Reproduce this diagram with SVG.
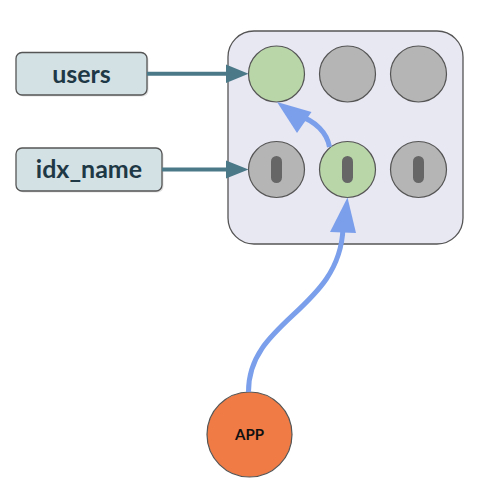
<svg xmlns="http://www.w3.org/2000/svg" width="495" height="491" viewBox="0 0 495 491">
<style>
.lbl rect{fill:#d3e1e5;stroke:#555;stroke-width:1.3}
.lbl .sh{fill:#000;fill-opacity:0.12;stroke:none}
.lbl text{font-family:Lato,"Liberation Sans",sans-serif;font-weight:bold;font-size:25px;fill:#1e3846;text-anchor:middle}
.g{fill:#b9d6a8;stroke:#555;stroke-width:1.2}
.s{fill:#b5b5b5;stroke:#555;stroke-width:1.2}
.pill{fill:#666}
.teal{stroke:#4b7988;stroke-width:4;fill:none}
.blue{stroke:#7b9feb;stroke-width:5;fill:none}
</style>
<g id="table">
<rect x="228" y="31" width="235" height="213" rx="26" fill="#e8e8f3" stroke="#555" stroke-width="1.3"/>
</g>
<g id="row1"><circle class="g" cx="276.5" cy="74" r="28"/></g>
<g id="row2"><circle class="s" cx="347.5" cy="74" r="28"/></g>
<g id="row3"><circle class="s" cx="418.5" cy="74" r="28"/></g>
<g id="idx1"><circle class="s" cx="276.5" cy="169.5" r="28"/><rect class="pill" x="271" y="156" width="11" height="27" rx="5.5"/></g>
<g id="idx2"><circle class="g" cx="347.5" cy="169.5" r="28"/><rect class="pill" x="342" y="156" width="11" height="27" rx="5.5"/></g>
<g id="idx3"><circle class="s" cx="418.5" cy="169.5" r="28"/><rect class="pill" x="413" y="156" width="11" height="27" rx="5.5"/></g>
<g id="users" class="lbl"><rect class="sh" x="17.5" y="54" width="131" height="42.5" rx="6"/><rect x="16" y="52.5" width="131" height="42.5" rx="6"/><text x="81.5" y="82.5">users</text></g>
<g id="idx_name" class="lbl"><rect class="sh" x="17.5" y="149.5" width="146" height="43" rx="6"/><rect x="16" y="148" width="146" height="43" rx="6"/><text x="89" y="178">idx_name</text></g>
<g id="app"><circle cx="249.5" cy="434.5" r="42.5" fill="#f07b45" stroke="#555" stroke-width="1.2"/><text x="249.5" y="440" font-family="Lato,'Liberation Sans',sans-serif" font-weight="bold" font-size="15" text-anchor="middle" fill="#111">APP</text></g>
<g id="connectors">
<path class="teal" d="M147 73.8 H232"/>
<polygon fill="#4b7988" points="248.5,73.8 226,64.5 226,83"/>
<path class="teal" d="M162 169.5 H232"/>
<polygon fill="#4b7988" points="248.5,169.5 226,160.5 226,178.5"/>
<path class="blue" d="M248.5 392 C248 320, 340 310, 343 228"/>
<polygon fill="#7b9feb" points="347.5,197.5 330,232 356,233"/>
<path class="blue" d="M329.5 147 C327 133, 316 121, 297 115"/>
<polygon fill="#7b9feb" points="277,102 297,133 311.5,112"/>
</g>
</svg>
